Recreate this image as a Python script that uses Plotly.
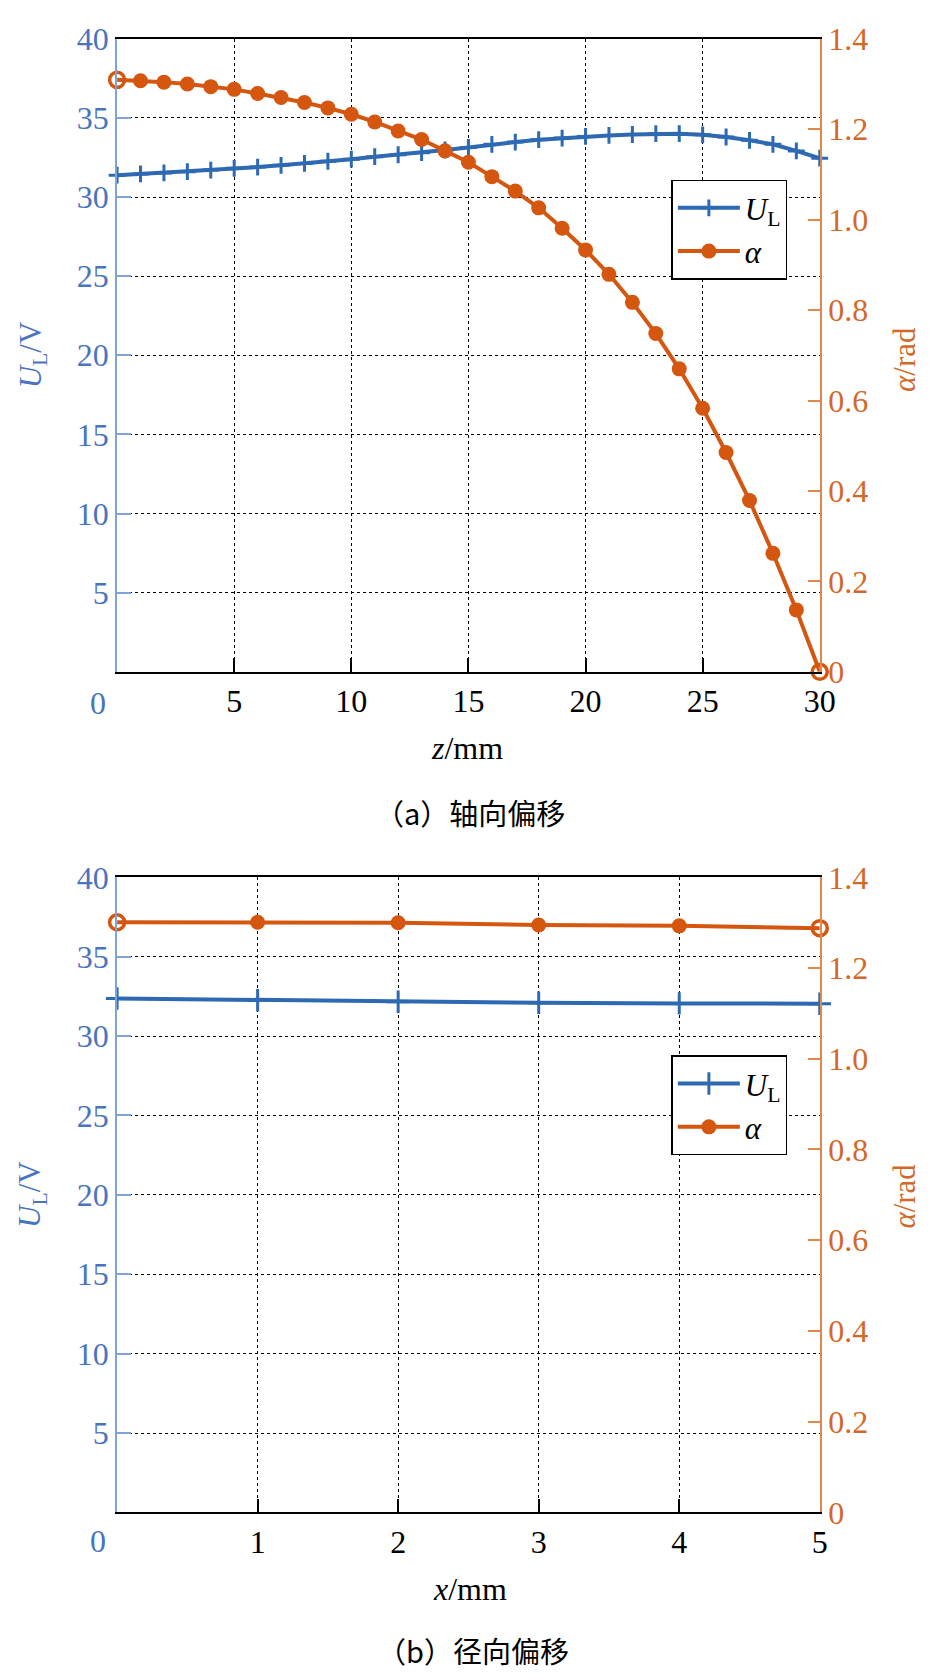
import plotly.graph_objects as go

# ---------------- data ----------------
z_mm = list(range(31))
UL_axial = [31.38, 31.46, 31.52, 31.60, 31.70, 31.81, 31.89, 32.00, 32.12, 32.26,
            32.39, 32.55, 32.67, 32.80, 32.97, 33.13, 33.33, 33.47, 33.62, 33.72,
            33.83, 33.89, 33.95, 34.00, 34.00, 33.93, 33.79, 33.58, 33.33, 32.91, 32.45]
alpha_axial = [1.309, 1.307, 1.304, 1.300, 1.294, 1.288, 1.279, 1.270, 1.259, 1.247,
               1.233, 1.216, 1.196, 1.177, 1.152, 1.127, 1.095, 1.063, 1.026, 0.981,
               0.933, 0.879, 0.817, 0.748, 0.670, 0.583, 0.485, 0.379, 0.262, 0.137, 0.0]

x_mm = [0, 1, 2, 3, 4, 5]
UL_radial = [32.37, 32.26, 32.16, 32.10, 32.06, 32.04]
alpha_radial = [1.301, 1.301, 1.300, 1.295, 1.293, 1.288]

left_tickvals = [5, 10, 15, 20, 25, 30, 35, 40]
right_tickvals = [0, 0.2, 0.4, 0.6, 0.8, 1.0, 1.2, 1.4]
right_ticktext = ["0", "0.2", "0.4", "0.6", "0.8", "1.0", "1.2", "1.4"]
top_xticks = [5, 10, 15, 20, 25, 30]
bot_xticks = [1, 2, 3, 4, 5]
corner_label = "0"

caption_a = "（a）轴向偏移"
caption_b = "（b）径向偏移"
name_UL = "<i>U</i><sub>L</sub>"
name_alpha = "<i>α</i>"

# ---------------- style ----------------
W, H = 929, 1677
BLUE_LINE = "#2E69B3"
BLUE_TXT = "#4A74C0"
BLUE_AX = "#7FA3DB"
ORANGE_LINE = "#D4560F"
ORANGE_TXT = "#D2692A"
ORANGE_AX = "#E0884E"
SERIF = "Liberation Serif, Times New Roman, serif"
CJK = "Noto Sans CJK SC"
FS = 32

def px(xp):
    return xp / W

def py(yp):
    return 1 - yp / H

X0, X1 = 111, 826
TOP = (13, 660)
BOT = (870, 1519)

def end_symbols(n):
    return ["circle-open"] + ["circle"] * (n - 2) + ["circle-open"]

def end_widths(n):
    return [3.5] + [0] * (n - 2) + [3.5]

fig = go.Figure()

def add_pair(xs, ul, al, xa, ya_l, ya_r, leg, cross_size):
    fig.add_trace(go.Scatter(x=xs, y=ul, mode="lines+markers", name=name_UL,
                             xaxis=xa, yaxis=ya_l, legend=leg, cliponaxis=False,
                             line=dict(color=BLUE_LINE, width=4),
                             marker=dict(symbol="cross-thin", size=cross_size, color=BLUE_LINE,
                                         line=dict(color=BLUE_LINE, width=3))))
    fig.add_trace(go.Scatter(x=xs, y=al, mode="lines+markers", name=name_alpha,
                             xaxis=xa, yaxis=ya_r, legend=leg, cliponaxis=False,
                             showlegend=False,
                             line=dict(color=ORANGE_LINE, width=4),
                             marker=dict(symbol=end_symbols(len(xs)), size=15, color=ORANGE_LINE,
                                         line=dict(color=ORANGE_LINE, width=end_widths(len(xs))))))
    # legend entry for alpha (filled circle, as in the reference legend)
    fig.add_trace(go.Scatter(x=[None], y=[None], mode="lines+markers", name=name_alpha,
                             xaxis=xa, yaxis=ya_r, legend=leg,
                             line=dict(color=ORANGE_LINE, width=4),
                             marker=dict(symbol="circle", size=15, color=ORANGE_LINE)))

add_pair(z_mm, UL_axial, alpha_axial, "x", "y", "y2", "legend", 12)
add_pair(x_mm, UL_radial, alpha_radial, "x2", "y3", "y4", "legend2", 16)

xdom = [px(X0), px(X1)]

def xaxis_cfg(rng, tv, anchor):
    return dict(domain=xdom, range=rng, tickvals=tv, anchor=anchor,
                showline=True, linecolor="black", linewidth=1.5, mirror=True,
                ticks="inside", ticklen=14, tickcolor="black", tickwidth=1.5,
                showgrid=True, gridcolor="black", griddash="dot", gridwidth=1,
                zeroline=False, tickfont=dict(family=SERIF, size=FS, color="black"),
                fixedrange=True)

def yleft_cfg(dom, anchor):
    return dict(domain=dom, range=[0, 40], tickvals=left_tickvals, anchor=anchor,
                showline=True, linecolor=BLUE_AX, linewidth=2,
                ticks="inside", ticklen=14, tickcolor=BLUE_AX, tickwidth=1.5,
                showgrid=True, gridcolor="black", griddash="dot", gridwidth=1,
                zeroline=False, tickfont=dict(family=SERIF, size=FS, color=BLUE_TXT))

def yright_cfg(overlay, anchor):
    return dict(overlaying=overlay, side="right", range=[0, 1.4], anchor=anchor,
                tickvals=right_tickvals, ticktext=right_ticktext,
                showline=True, linecolor=ORANGE_AX, linewidth=2,
                ticks="inside", ticklen=12, tickcolor=ORANGE_AX, tickwidth=1.5,
                showgrid=False, zeroline=False,
                tickfont=dict(family=SERIF, size=FS, color=ORANGE_TXT))

legend_common = dict(xanchor="left", yanchor="top", bgcolor="white",
                     bordercolor="black", borderwidth=1.5,
                     font=dict(family=SERIF, size=31, color="black"),
                     tracegroupgap=0, itemwidth=62)

annotations = []
def ann(text, x, y, color="black", size=FS, angle=0, family=SERIF):
    annotations.append(dict(text=text, x=px(x), y=py(y), xref="paper", yref="paper",
                            showarrow=False, textangle=angle, xanchor="center", yanchor="middle",
                            font=dict(family=family, size=size, color=color)))

ann("<i>z</i>/mm", 467, 738)
ann("<i>x</i>/mm", 470, 1597)
ann("<i>U</i><sub>L</sub>/V", 25, 336, color=BLUE_TXT, angle=-90, size=31)
ann("<i>U</i><sub>L</sub>/V", 25, 1194, color=BLUE_TXT, angle=-90, size=31)
ann("<i>α</i>/rad", 912, 341, color=ORANGE_TXT, angle=-90, size=31)
ann("<i>α</i>/rad", 912, 1196, color=ORANGE_TXT, angle=-90, size=31)
ann(corner_label, 92, 692, color=BLUE_TXT)
ann(corner_label, 92, 1548, color=BLUE_TXT)
ann(caption_a, 470, 803, size=29, family=CJK)
ann(caption_b, 473, 1660, size=29, family=CJK)

fig.update_layout(
    width=W, height=H, autosize=False,
    margin=dict(l=0, r=0, t=0, b=0),
    paper_bgcolor="white", plot_bgcolor="white",
    xaxis=xaxis_cfg([0, 30], top_xticks, "y"),
    yaxis=yleft_cfg([py(TOP[1]), py(TOP[0])], "x"),
    yaxis2=yright_cfg("y", "x"),
    xaxis2=xaxis_cfg([0, 5], bot_xticks, "y3"),
    yaxis3=yleft_cfg([py(BOT[1]), py(BOT[0])], "x2"),
    yaxis4=yright_cfg("y3", "x2"),
    legend=dict(x=px(675), y=py(157), **legend_common),
    legend2=dict(x=px(675), y=py(1052), **legend_common),
    annotations=annotations,
    showlegend=True,
)

fig.write_html("out.html")
